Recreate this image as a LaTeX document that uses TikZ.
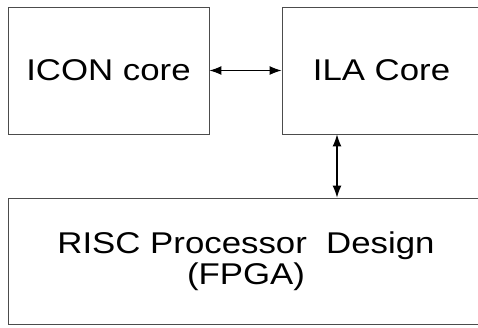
\documentclass[tikz,border=0pt]{standalone}
\usepackage{fontspec}
\setmainfont{Liberation Sans}[FakeStretch=1.16]
\usetikzlibrary{arrows.meta}

\begin{document}
\begin{tikzpicture}[x=1pt, y=-1pt,
  block/.style={draw=black!70, line width=0.9pt, rectangle, inner sep=0pt,
    align=center, font=\fontsize{30}{31.5}\selectfont},
  link/.style={line width=1.1pt, {Latex[length=12pt,width=9pt]}-{Latex[length=12pt,width=9pt]}}]
  % page size and cut-off on the right
  \useasboundingbox (0,0) rectangle (478,327);
  \clip (0,0) rectangle (478,327);

  % the three blocks
  \node[block, minimum width=201pt, minimum height=127pt] (icon) at (108.5,70.5) {ICON core};
  \node[block, minimum width=199pt, minimum height=127pt] (ila) at (381.5,70.5) {ILA Core};
  \node[block, minimum width=476pt, minimum height=126pt] (risc) at (246,261) {RISC Processor~ Design\\(FPGA)};

  % connections
  \coordinate (tap) at (337,0);
  \draw[link] (icon.east) -- (ila.west);
  \draw[link] (ila.south -| tap) -- (risc.north -| tap);
\end{tikzpicture}
\end{document}
